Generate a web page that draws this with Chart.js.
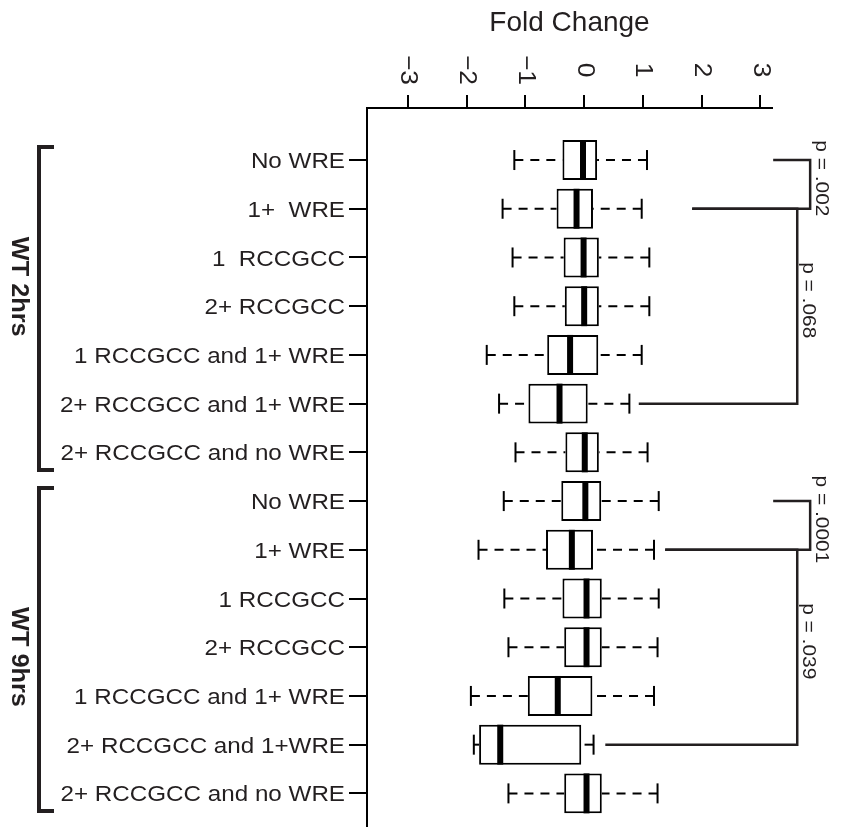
<!DOCTYPE html>
<html>
<head>
<meta charset="utf-8">
<title>Fold Change by motif class</title>
<script src="https://cdn.jsdelivr.net/npm/chart.js@4.4.1/dist/chart.umd.min.js"></script>
<style>
    html, body { margin: 0; padding: 0; background: #fff; }
    canvas { display: block; }
</style>
</head>
<body>
<canvas id="boxChart" width="841" height="827"></canvas>
<script>
/**
 * Fold change box plots - WT 2hrs / WT 9hrs
 * Boxes are floating bars, whiskers and medians drawn from the same scales.
 */

const FONT = '"Liberation Sans", Arial, Helvetica, sans-serif';
const INK = '#231f20';
const TEXT_STRETCH = 1.1; // labels in the figure are set slightly wide

// Row categories (top to bottom)
const rowLabels = [
    'No WRE', '1+  WRE', '1  RCCGCC', '2+ RCCGCC',
    '1 RCCGCC and 1+ WRE', '2+ RCCGCC and 1+ WRE', '2+ RCCGCC and no WRE',
    'No WRE', '1+ WRE', '1 RCCGCC', '2+ RCCGCC',
    '1 RCCGCC and 1+ WRE', '2+ RCCGCC and 1+WRE', '2+ RCCGCC and no WRE'
];

// Box plot statistics (fold change)
const whiskerLow  = [-1.19, -1.39, -1.22, -1.19, -1.66, -1.45, -1.17, -1.37, -1.80, -1.36, -1.29, -1.93, -1.88, -1.29];
const q1          = [-0.37, -0.47, -0.35, -0.33, -0.63, -0.95, -0.32, -0.39, -0.65, -0.37, -0.34, -0.96, -1.79, -0.34];
const median      = [-0.02, -0.13, -0.01,  0.00, -0.24, -0.42,  0.01,  0.02, -0.21,  0.04,  0.04, -0.45, -1.43,  0.04];
const q3          = [ 0.22,  0.15,  0.25,  0.25,  0.24,  0.06,  0.25,  0.29,  0.15,  0.30,  0.30,  0.14, -0.05,  0.30];
const whiskerHigh = [ 1.07,  0.98,  1.11,  1.11,  0.98,  0.77,  1.08,  1.27,  1.19,  1.27,  1.25,  1.19,  0.16,  1.25];

// Axis ticks
const xTicks = [-3, -2, -1, 0, 1, 2, 3];

// Groups (left brackets)
const groupNames = ['WT 2hrs', 'WT 9hrs'];
const groupRows = [[0, 6], [7, 13]];

// Comparisons (right brackets)
const pLabels = ['p = .002', 'p = .068', 'p = .0001', 'p = .039'];
const pRows = [[0, 1], [1, 5], [7, 8], [8, 12]];

// bracket geometry in axis units: [upper arm start, lower arm start, riser]
const bracketArms = [[3.22, 1.84, 3.85], [1.84, 0.93, 3.63], [3.22, 1.38, 3.85], [1.38, 0.36, 3.63]];
const groupLabelAt = [2.6, 10.2];

/**
 * Draw text with optional rotation and stretch along the reading direction
 */
function drawText(ctx, text, x, y, opts) {
    ctx.save();
    ctx.translate(x, y);
    if (opts.rotate) ctx.rotate(opts.rotate);
    ctx.scale(opts.stretch || 1, 1);
    ctx.font = opts.font;
    ctx.textAlign = opts.align || 'left';
    ctx.textBaseline = opts.baseline || 'middle';
    ctx.fillStyle = INK;
    ctx.fillText(text, 0, 0);
    ctx.restore();
}

const boxPlotPlugin = {
    id: 'boxPlot',
    beforeDatasetsDraw(chart) {
        const { ctx, scales: { x, y } } = chart;
        ctx.save();
        ctx.strokeStyle = '#000';
        ctx.lineWidth = 2;
        ctx.setLineDash([9, 7]);
        rowLabels.forEach((_, i) => {
            const py = y.getPixelForValue(i);
            ctx.beginPath();
            ctx.moveTo(x.getPixelForValue(whiskerLow[i]), py);
            ctx.lineTo(x.getPixelForValue(q1[i]), py);
            ctx.stroke();
            ctx.beginPath();
            ctx.moveTo(x.getPixelForValue(whiskerHigh[i]), py);
            ctx.lineTo(x.getPixelForValue(q3[i]), py);
            ctx.stroke();
        });
        ctx.restore();
    },
    afterDatasetsDraw(chart) {
        const { ctx, scales: { x, y } } = chart;
        const bars = chart.getDatasetMeta(0).data;
        ctx.save();
        ctx.strokeStyle = '#000';
        ctx.fillStyle = '#000';
        ctx.lineWidth = 2;
        rowLabels.forEach((_, i) => {
            const py = y.getPixelForValue(i);
            const h = bars[i].height;
            // whisker caps
            [whiskerLow[i], whiskerHigh[i]].forEach(v => {
                const px = x.getPixelForValue(v);
                ctx.beginPath();
                ctx.moveTo(px, py - 10);
                ctx.lineTo(px, py + 10);
                ctx.stroke();
            });
            // median
            const mx = x.getPixelForValue(median[i]);
            ctx.fillRect(mx - 3, py - h / 2, 6, h);
        });
        ctx.restore();
    },
    afterDraw(chart) {
        const { ctx, scales: { x, y } } = chart;

        // top tick labels, rotated clockwise
        x.ticks.forEach(t => {
            const txt = String(t.value).replace('-', '\u2212');
            drawText(ctx, txt, x.getPixelForValue(t.value), 70, {
                rotate: Math.PI / 2, align: 'center', font: `24px ${FONT}`, stretch: TEXT_STRETCH
            });
        });

        // row labels
        rowLabels.forEach((label, i) => {
            drawText(ctx, label, y.left + y.width - 22, y.getPixelForValue(i) + 2, {
                align: 'right', font: `22px ${FONT}`, stretch: TEXT_STRETCH
            });
        });

        // group brackets
        ctx.save();
        ctx.strokeStyle = INK;
        ctx.lineWidth = 4;
        groupRows.forEach(([a, b], g) => {
            const top = y.getPixelForValue(a - 0.27);
            const bot = y.getPixelForValue(b + 0.36);
            ctx.beginPath();
            ctx.moveTo(54, top);
            ctx.lineTo(39, top);
            ctx.lineTo(39, bot);
            ctx.lineTo(54, bot);
            ctx.stroke();
            drawText(ctx, groupNames[g], 18, y.getPixelForValue(groupLabelAt[g]), {
                rotate: Math.PI / 2, align: 'center', font: `bold 23px ${FONT}`, stretch: TEXT_STRETCH
            });
        });
        ctx.restore();

        // significance brackets
        ctx.save();
        ctx.strokeStyle = INK;
        ctx.lineWidth = 2.5;
        pRows.forEach(([a, b], k) => {
            const [armA, armB, riser] = bracketArms[k];
            const ya = y.getPixelForValue(a);
            const yb = y.getPixelForValue(b);
            const xr = x.getPixelForValue(riser);
            ctx.beginPath();
            ctx.moveTo(x.getPixelForValue(armA), ya);
            ctx.lineTo(xr, ya);
            ctx.lineTo(xr, yb);
            ctx.lineTo(x.getPixelForValue(armB), yb);
            ctx.stroke();
            drawText(ctx, pLabels[k], xr + 11, (ya + yb) / 2 - 6, {
                rotate: Math.PI / 2, align: 'center', font: `19px ${FONT}`, stretch: TEXT_STRETCH
            });
        });
        ctx.restore();
    }
};

function createBoxChart(canvasId) {
    const ctx = document.getElementById(canvasId);
    if (!ctx) {
        console.error(`Canvas element ${canvasId} not found`);
        return null;
    }

    return new Chart(ctx, {
        type: 'bar',
        data: {
            datasets: [{
                label: 'Interquartile range',
                data: rowLabels.map((_, i) => ({ y: i, x: [q1[i], q3[i]] })),
                backgroundColor: '#fff',
                borderColor: '#000',
                borderWidth: 2,
                borderSkipped: false,
                barPercentage: 0.82,
                categoryPercentage: 1
            }]
        },
        options: {
            indexAxis: 'y',
            responsive: false,
            animation: false,
            layout: { padding: { left: 0, top: 0, right: 69, bottom: 0 } },
            plugins: {
                legend: { display: false },
                tooltip: { enabled: false }
            },
            scales: {
                x: {
                    type: 'linear',
                    position: 'top',
                    min: -3.7,
                    max: 3.2,
                    afterBuildTicks: axis => { axis.ticks = xTicks.map(v => ({ value: v })); },
                    afterFit: axis => { axis.height = 108; },
                    ticks: { display: false },
                    grid: { drawOnChartArea: false, drawTicks: true, tickLength: 13, color: '#000', lineWidth: 2 },
                    border: { color: '#000', width: 2 },
                    title: {
                        display: true,
                        text: 'Fold Change',
                        color: INK,
                        font: { family: FONT, size: 28 },
                        padding: { top: 6, bottom: 0 }
                    }
                },
                y: {
                    type: 'linear',
                    reverse: true,
                    offset: false,
                    min: -1.068,
                    max: 13.69,
                    afterBuildTicks: axis => { axis.ticks = rowLabels.map((_, i) => ({ value: i })); },
                    afterFit: axis => { axis.width = 367; },
                    ticks: { display: false },
                    grid: { offset: false, drawOnChartArea: false, drawTicks: true, tickLength: 18, color: '#000', lineWidth: 2 },
                    border: { color: '#000', width: 2 }
                }
            }
        },
        plugins: [boxPlotPlugin]
    });
}

document.addEventListener('DOMContentLoaded', () => createBoxChart('boxChart'));
</script>
</body>
</html>
